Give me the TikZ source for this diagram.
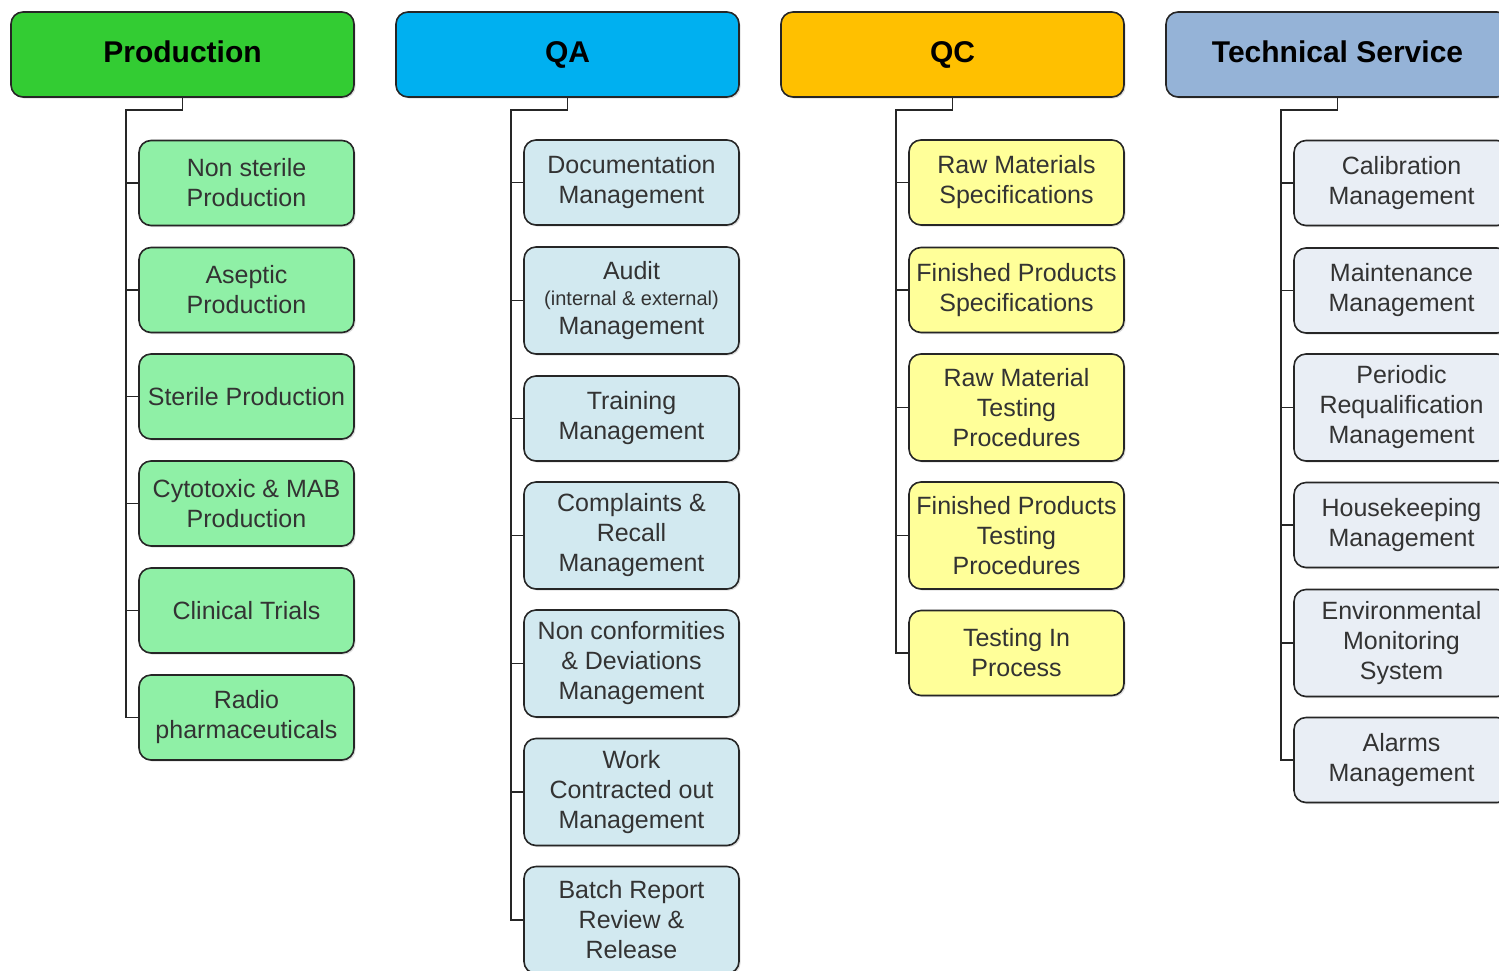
\documentclass[tikz,border=0pt]{standalone}
\usepackage{fontspec}
\setmainfont{Liberation Sans}
\usetikzlibrary{shadows}
\definecolor{prodH}{RGB}{51,204,51}
\definecolor{prodC}{RGB}{143,240,166}
\definecolor{qaH}{RGB}{0,176,240}
\definecolor{qaC}{RGB}{210,233,240}
\definecolor{qcH}{RGB}{255,192,0}
\definecolor{qcC}{RGB}{255,255,153}
\definecolor{tsH}{RGB}{149,179,215}
\definecolor{tsC}{RGB}{233,238,245}
\tikzset{
  box/.style={draw=black!85, line width=0.8pt, rounded corners=6pt, align=center,
    inner sep=1pt, drop shadow={shadow xshift=0.8pt, shadow yshift=-0.8pt, opacity=0.25}},
  head/.style={box, minimum width=171.5pt, minimum height=42.5pt,
    font=\fontsize{15}{17}\selectfont\bfseries, text=black,
    text height=11pt, text depth=3.5pt},
  child/.style={box, minimum width=107.5pt, minimum height=42.5pt,
    font=\fontsize{12.5}{15}\selectfont, text=black!80},
  tall/.style={child, minimum height=53.5pt},
  conn/.style={draw=black!85, line width=0.9pt}
}
\begin{document}
\begin{tikzpicture}[x=0.5pt, y=-0.5pt]
\useasboundingbox (0,0) rectangle (1499,970);
\clip (0,0) rectangle (1499,970);
% headers
\node[head, fill=prodH] (P) at (182.5,54.5) {Production};
\node[head, fill=qaH] (Q) at (567.5,54.5) {QA};
\node[head, fill=qcH] (C) at (952.5,54.5) {QC};
\node[head, fill=tsH] (T) at (1337.5,54.5) {Technical Service};
% junctions
\coordinate (Pj) at (126,110);
\coordinate (Qj) at (511,110);
\coordinate (Cj) at (896,110);
\coordinate (Tj) at (1281,110);
% Production children
\node[child, fill=prodC] (P1) at (246.5,183) {Non sterile\\Production};
\node[child, fill=prodC] (P2) at (246.5,290) {Aseptic\\Production};
\node[child, fill=prodC] (P3) at (246.5,396.5) {Sterile Production};
\node[child, fill=prodC] (P4) at (246.5,503.5) {Cytotoxic \& MAB\\Production};
\node[child, fill=prodC] (P5) at (246.5,610.5) {Clinical Trials};
\node[child, fill=prodC] (P6) at (246.5,717.5) {Radio\\pharmaceuticals};
% QA children
\node[child, fill=qaC] (Q1) at (631.5,182.5) {Documentation\\Management};
\node[tall, fill=qaC] (Q2) at (631.5,300.5) {Audit\\[-2pt]{\fontsize{10}{12}\selectfont(internal \& external)}\\[-0.5pt]Management};
\node[child, fill=qaC] (Q3) at (631.5,418.5) {Training\\Management};
\node[tall, fill=qaC] (Q4) at (631.5,535.5) {Complaints \&\\Recall\\Management};
\node[tall, fill=qaC] (Q5) at (631.5,663.5) {Non conformities\\\& Deviations\\Management};
\node[tall, fill=qaC] (Q6) at (631.5,792) {Work\\Contracted out\\Management};
\node[tall, fill=qaC] (Q7) at (631.5,920) {Batch Report\\Review \&\\Release};
% QC children
\node[child, fill=qcC] (C1) at (1016.5,182.5) {Raw Materials\\Specifications};
\node[child, fill=qcC] (C2) at (1016.5,290) {Finished Products\\Specifications};
\node[tall, fill=qcC] (C3) at (1016.5,407.5) {Raw Material\\Testing\\Procedures};
\node[tall, fill=qcC] (C4) at (1016.5,535.5) {Finished Products\\Testing\\Procedures};
\node[child, fill=qcC] (C5) at (1016.5,653) {Testing In\\Process};
% TS children
\node[child, fill=tsC] (T1) at (1401.5,183) {Calibration\\Management};
\node[child, fill=tsC] (T2) at (1401.5,290.5) {Maintenance\\Management};
\node[tall, fill=tsC] (T3) at (1401.5,407.5) {Periodic\\Requalification\\Management};
\node[child, fill=tsC] (T4) at (1401.5,525) {Housekeeping\\Management};
\node[tall, fill=tsC] (T5) at (1401.5,643) {Environmental\\Monitoring\\System};
\node[child, fill=tsC] (T6) at (1401.5,760) {Alarms\\Management};
% connectors
\draw[conn] (P.south) |- (Pj) |- (P6.west);
\foreach \n in {P1,P2,P3,P4,P5} \draw[conn] (\n.west) -- (\n.west -| Pj);
\draw[conn] (Q.south) |- (Qj) |- (Q7.west);
\foreach \n in {Q1,Q2,Q3,Q4,Q5,Q6} \draw[conn] (\n.west) -- (\n.west -| Qj);
\draw[conn] (C.south) |- (Cj) |- (C5.west);
\foreach \n in {C1,C2,C3,C4} \draw[conn] (\n.west) -- (\n.west -| Cj);
\draw[conn] (T.south) |- (Tj) |- (T6.west);
\foreach \n in {T1,T2,T3,T4,T5} \draw[conn] (\n.west) -- (\n.west -| Tj);
\end{tikzpicture}
\end{document}
